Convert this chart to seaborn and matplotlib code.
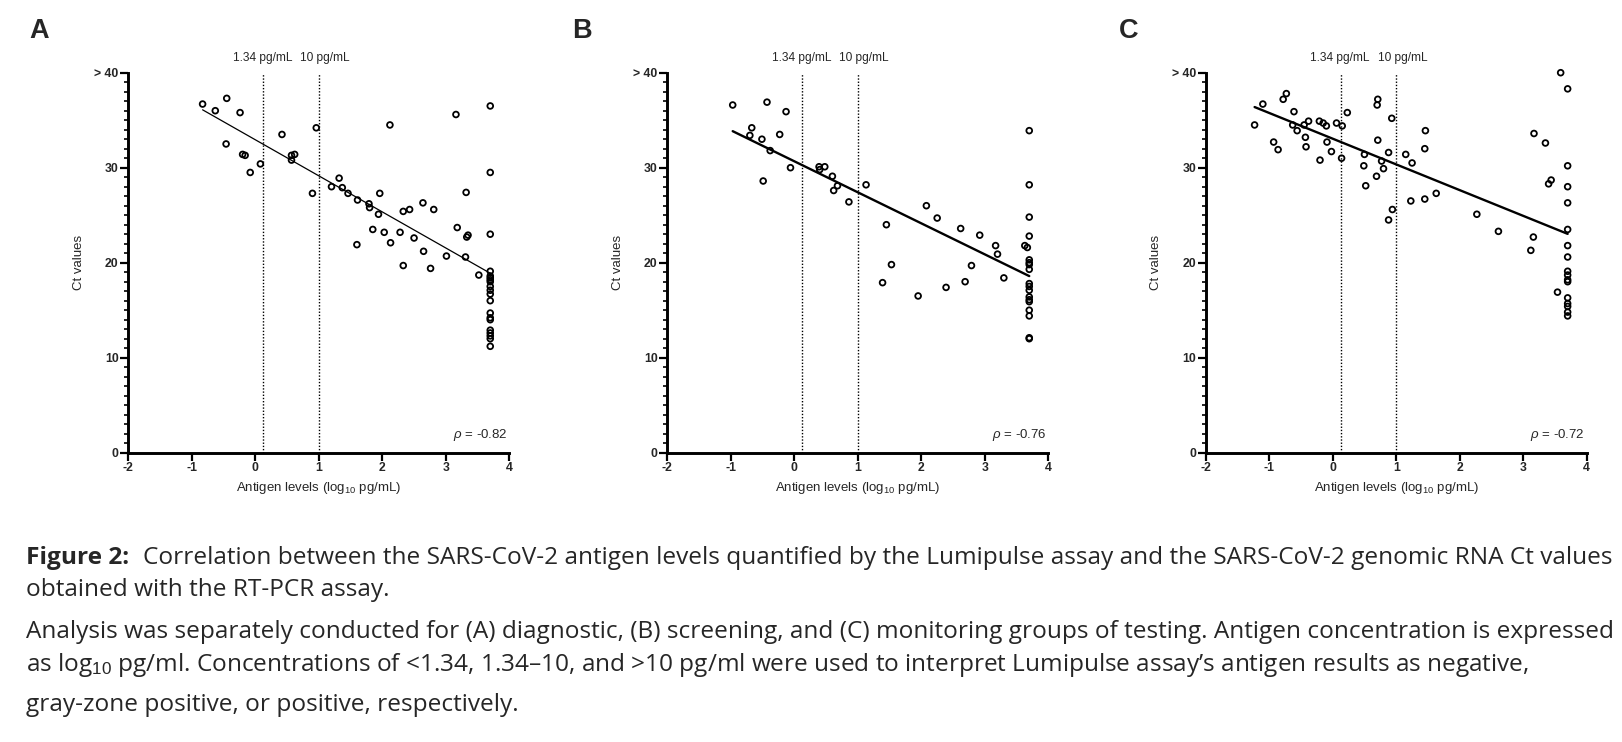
import numpy as np
import pandas as pd
import matplotlib
matplotlib.use("Agg")
import matplotlib.pyplot as plt
import seaborn as sns

# ---------------- data ----------------
a_x = [-0.83, -0.63, -0.45, -0.24, -0.46, -0.20, -0.16, -0.08, 0.08, 0.42, 0.57, 0.57, 0.62,
       0.96, 0.90, 1.20, 1.32, 1.37, 1.46, 1.61, 1.79, 1.80, 1.94, 1.96, 2.12, 1.85, 2.03,
       2.28, 2.33, 2.43, 2.64, 2.81, 2.50, 3.16, 3.70, 3.70, 3.32, 3.18, 3.35, 3.33, 3.70,
       1.60, 2.13, 2.65, 2.33, 2.76, 3.01, 3.31, 3.52,
       3.70, 3.70, 3.70, 3.70, 3.70, 3.70, 3.70, 3.70, 3.70, 3.70, 3.70, 3.70, 3.70, 3.70,
       3.70, 3.70, 3.70]
a_y = [36.7, 36.0, 37.3, 35.8, 32.5, 31.4, 31.3, 29.5, 30.4, 33.5, 30.8, 31.3, 31.4,
       34.2, 27.3, 28.0, 28.9, 27.9, 27.3, 26.6, 26.2, 25.8, 25.1, 27.3, 34.5, 23.5, 23.2,
       23.2, 25.4, 25.6, 26.3, 25.6, 22.6, 35.6, 36.5, 29.5, 27.4, 23.7, 22.9, 22.7, 23.0,
       21.9, 22.1, 21.2, 19.7, 19.4, 20.7, 20.6, 18.7,
       19.1, 18.6, 18.4, 18.2, 18.0, 17.5, 17.1, 16.7, 16.0, 14.7, 14.2, 14.0, 12.9, 12.6,
       12.3, 12.0, 11.2]

b_x = [-0.97, -0.43, -0.13, -0.67, -0.70, -0.51, -0.23, -0.38, -0.06, -0.49, 0.39, 0.40,
       0.48, 0.60, 0.68, 0.62, 0.86, 1.13, 1.45, 2.08, 2.25, 2.62, 2.92, 3.70, 3.70, 3.70,
       3.70, 3.17, 3.20, 3.63, 3.67,
       3.70, 3.70, 3.70, 3.70, 3.70, 3.70, 3.70, 3.70, 3.70, 3.70, 3.70, 3.70, 3.70, 3.70,
       1.39, 1.53, 1.95, 2.39, 2.69, 2.79, 3.30]
b_y = [36.6, 36.9, 35.9, 34.2, 33.4, 33.0, 33.5, 31.8, 30.0, 28.6, 30.1, 29.8,
       30.1, 29.1, 28.1, 27.6, 26.4, 28.2, 24.0, 26.0, 24.7, 23.6, 22.9, 33.9, 28.2, 24.8,
       22.8, 21.8, 20.9, 21.8, 21.6,
       20.3, 20.0, 19.8, 19.3, 17.8, 17.5, 17.1, 16.4, 16.1, 15.9, 15.0, 14.4, 12.1, 12.0,
       17.9, 19.8, 16.5, 17.4, 18.0, 19.7, 18.4]

c_x = [-1.23, -1.10, -0.93, -0.86, -0.78, -0.73, -0.61, -0.63, -0.56, -0.45, -0.38, -0.43,
       -0.42, -0.21, -0.15, -0.10, -0.09, -0.20, -0.02, 0.06, 0.15, 0.23, 0.14, 0.49, 0.50,
       0.52, 0.69, 0.71, 0.70, 0.71, 0.77, 0.80, 0.88, 0.93, 0.88, 0.94, 1.15, 1.25, 1.23,
       1.45, 1.46, 1.45, 1.63, 2.27, 2.61, 3.17, 3.35, 3.40, 3.44, 3.59, 3.70, 3.70, 3.70,
       3.70, 3.70, 3.16, 3.12, 3.54,
       3.70, 3.70, 3.70, 3.70, 3.70, 3.70, 3.70, 3.70, 3.70, 3.70, 3.70]
c_y = [34.5, 36.7, 32.7, 31.9, 37.2, 37.8, 35.9, 34.5, 33.9, 34.5, 34.9, 33.2,
       32.2, 34.9, 34.7, 34.4, 32.7, 30.8, 31.7, 34.7, 34.4, 35.8, 31.0, 30.2, 31.4,
       28.1, 29.1, 32.9, 36.6, 37.2, 30.7, 29.9, 31.6, 35.2, 24.5, 25.6, 31.4, 30.5, 26.5,
       32.0, 33.9, 26.7, 27.3, 25.1, 23.3, 33.6, 32.6, 28.3, 28.7, 40.0, 38.3, 30.2, 28.0,
       26.3, 23.5, 22.7, 21.3, 16.9,
       21.8, 20.6, 19.1, 18.7, 18.2, 18.0, 16.3, 15.7, 15.4, 14.8, 14.4]

panel_letters = ["A", "B", "C"]
rho_labels = ["-0.82", "-0.76", "-0.72"]
y_ticks = [0, 10, 20, 30, 40]
y_tick_labels = ["0", "10", "20", "30", "> 40"]
x_ticks = [-2, -1, 0, 1, 2, 3, 4]
cutoffs = [1.34, 10]
cutoff_labels = ["1.34 pg/mL", "10 pg/mL"]

caption_bold = "Figure 2:"
caption_lines = [
    "Correlation between the SARS-CoV-2 antigen levels quantified by the Lumipulse assay and the SARS-CoV-2 genomic RNA Ct values",
    "obtained with the RT-PCR assay.",
    "Analysis was separately conducted for (A) diagnostic, (B) screening, and (C) monitoring groups of testing. Antigen concentration is expressed",
    "as log$_{10}$ pg/ml. Concentrations of <1.34, 1.34\u201310, and >10 pg/ml were used to interpret Lumipulse assay\u2019s antigen results as negative,",
    "gray-zone positive, or positive, respectively.",
]

# ---------------- style ----------------
sns.set_style("ticks")
plt.rcParams['font.family'] = ['Liberation Sans', 'DejaVu Sans']
plt.rcParams['mathtext.fontset'] = 'custom'
plt.rcParams['mathtext.rm'] = 'Liberation Sans'
plt.rcParams['mathtext.it'] = 'Liberation Sans:italic'
plt.rcParams['mathtext.bf'] = 'Liberation Sans:bold'

W, H = 1622, 742
fig = plt.figure(figsize=(W / 100, H / 100), dpi=100)

lefts = [128.3, 667.3, 1205.7]
ax_w, ax_top, ax_bot = 381.0, 72.7, 452.7
line_widths = [0.9, 1.7, 1.7]
letter_x = [29, 572, 1119]

datasets = [(a_x, a_y), (b_x, b_y), (c_x, c_y)]
for i, (xs, ys) in enumerate(datasets):
    ax = fig.add_axes([lefts[i] / W, 1 - ax_bot / H, ax_w / W, (ax_bot - ax_top) / H])
    df = pd.DataFrame({"x": xs, "y": ys})
    sns.regplot(data=df, x="x", y="y", ax=ax, scatter=False, ci=None,
                line_kws={"color": "black", "lw": line_widths[i]})
    sns.scatterplot(data=df, x="x", y="y", ax=ax, marker="o", s=17,
                    facecolor="none", edgecolor="black", linewidth=1.3, zorder=3,
                    clip_on=False)
    for c in cutoffs:
        xv = np.log10(c)
        ax.plot([xv, xv], [0, 40], color="black", lw=1.0, ls=(0, (1, 1.3)), zorder=1)
    ax.text(np.log10(cutoffs[0]) - 0.01, 41.5, cutoff_labels[0], ha="center", va="center",
            fontsize=8.6)
    ax.text(np.log10(cutoffs[1]) + 0.1, 41.5, cutoff_labels[1], ha="center", va="center",
            fontsize=8.6)
    ax.text(3.97, 1.9, r"$\rho$ = " + rho_labels[i], ha="right", va="center", fontsize=9.5)

    ax.set_xlim(-2, 4)
    ax.set_ylim(0, 40)
    ax.set_xticks(x_ticks)
    ax.set_xticklabels([str(t) for t in x_ticks], fontweight="bold")
    ax.set_yticks(y_ticks)
    ax.set_yticklabels(y_tick_labels, fontweight="bold")
    ax.set_yticks(np.arange(0, 41, 1), minor=True)
    ax.tick_params(axis="both", which="major", length=5.5, width=1.6, labelsize=8.8, pad=1.5,
                   color="black")
    ax.tick_params(axis="y", which="minor", length=2.6, width=1.2, color="black")
    for s in ["left", "bottom"]:
        ax.spines[s].set_linewidth(2.1)
        ax.spines[s].set_color("black")
    sns.despine(ax=ax)
    ax.set_xlabel("Antigen levels (log$_{10}$ pg/mL)", fontsize=9.5, labelpad=4)
    ax.set_ylabel("Ct values", fontsize=9.5, labelpad=7)
    ax.patch.set_alpha(0)
    fig.text(letter_x[i] / W, 1 - 31.5 / H, panel_letters[i], fontsize=19.5, fontweight="bold",
             ha="left", va="center")

# ---------------- caption ----------------
cap_font = ["Open Sans", "DejaVu Sans"]
baselines = [564, 596, 638, 671, 711]
x0, x_end = 26, 1612
renderer = fig.canvas.get_renderer()


def first_line(size):
    tb = fig.text(x0 / W, 1 - baselines[0] / H, caption_bold, fontsize=size, fontweight="bold",
                  family=cap_font, va="baseline", ha="left")
    bb = tb.get_window_extent(renderer)
    tr = fig.text((bb.x1 + 0.55 * size * 100 / 72) / W, 1 - baselines[0] / H, caption_lines[0],
                  fontsize=size, family=cap_font, va="baseline", ha="left")
    return tb, tr


size = 17.0
tb, tr = first_line(size)
w = tr.get_window_extent(renderer).x1 - x0
tb.remove()
tr.remove()
size = size * (x_end - x0) / w
first_line(size)
for k in range(1, 5):
    fig.text(x0 / W, 1 - baselines[k] / H, caption_lines[k], fontsize=size,
             family=cap_font, va="baseline", ha="left")

fig.savefig("out.png", dpi=100)
